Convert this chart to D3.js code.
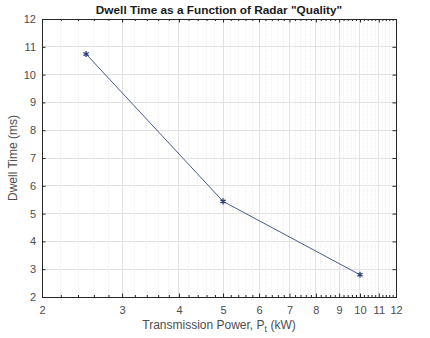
<!DOCTYPE html>
<html>
<head>
<meta charset="utf-8">
<script src="https://cdn.jsdelivr.net/npm/d3@7"></script>
<style>
  html, body { margin: 0; padding: 0; background: #fff; }
  svg { display: block; font-family: "Liberation Sans", Arial, Helvetica, sans-serif; }
</style>
</head>
<body>
<svg id="chart" width="430" height="338"></svg>
<script>
// Transmission power (kW) and the resulting dwell time (ms)
const powerKW = [2.5, 5, 10];
const dwellMs = [10.74, 5.44, 2.8];

// Axis ticks
const xTicks = [2, 3, 4, 5, 6, 7, 8, 9, 10, 11, 12];
const yTicks = [2, 3, 4, 5, 6, 7, 8, 9, 10, 11, 12];
const xMinorTicks = d3.range(2, 12.0001, 0.2).map(v => +v.toFixed(1)).filter(v => !xTicks.includes(v));

const titleText = 'Dwell Time as a Function of Radar "Quality"';
const yLabelText = "Dwell Time (ms)";

const svg = d3.select("#chart");
const margin = { left: 42, right: 34, top: 19, bottom: 41 };
const W = 430, H = 338;
const x0 = margin.left, x1 = W - margin.right;
const y0 = margin.top, y1 = H - margin.bottom;

const x = d3.scaleLog().domain([2, 12]).range([x0, x1]);
const y = d3.scaleLinear().domain([2, 12]).range([y1, y0]);

const textColor = "#4d4d4d";
const axisColor = "#262626";

// Minor vertical grid (dotted)
svg.append("g").selectAll("line").data(xMinorTicks).join("line")
  .attr("x1", d => x(d)).attr("x2", d => x(d))
  .attr("y1", y0).attr("y2", y1)
  .attr("stroke", "#efefef").attr("stroke-width", 1)
  .attr("stroke-dasharray", "1,1")
  .attr("shape-rendering", "crispEdges");

// Major grid
const grid = svg.append("g").attr("shape-rendering", "crispEdges");
grid.selectAll(".gx").data(xTicks).join("line")
  .attr("x1", d => x(d)).attr("x2", d => x(d))
  .attr("y1", y0).attr("y2", y1)
  .attr("stroke", "#e2e2e2");
grid.selectAll(".gy").data(yTicks).join("line")
  .attr("x1", x0).attr("x2", x1)
  .attr("y1", d => y(d)).attr("y2", d => y(d))
  .attr("stroke", "#e2e2e2");

// Axes with inward ticks on all four sides
const fmt = d3.format("d");
svg.append("g").attr("transform", `translate(0,${y1})`)
  .call(d3.axisBottom(x).tickValues(xTicks).tickFormat(fmt).tickSizeInner(-3.5).tickSizeOuter(0).tickPadding(9));
svg.append("g").attr("transform", `translate(0,${y0})`)
  .call(d3.axisTop(x).tickValues(xTicks).tickFormat("").tickSizeInner(-3.5).tickSizeOuter(0));
svg.append("g").attr("transform", `translate(${x0},0)`)
  .call(d3.axisLeft(y).tickValues(yTicks).tickFormat(fmt).tickSizeInner(-3.5).tickSizeOuter(0).tickPadding(6));
svg.append("g").attr("transform", `translate(${x1},0)`)
  .call(d3.axisRight(y).tickValues(yTicks).tickFormat("").tickSizeInner(-3.5).tickSizeOuter(0));

// Minor x ticks, bottom and top
svg.append("g").attr("transform", `translate(0,${y1})`)
  .call(d3.axisBottom(x).tickValues(xMinorTicks).tickFormat("").tickSizeInner(-2).tickSizeOuter(0))
  .call(g => g.select(".domain").remove());
svg.append("g").attr("transform", `translate(0,${y0})`)
  .call(d3.axisTop(x).tickValues(xMinorTicks).tickFormat("").tickSizeInner(-2).tickSizeOuter(0))
  .call(g => g.select(".domain").remove());

svg.selectAll(".domain").attr("stroke", axisColor).attr("shape-rendering", "crispEdges");
svg.selectAll(".tick line").attr("stroke", axisColor);
svg.selectAll(".tick text").attr("fill", textColor).style("font-size", "11px")
  .style("font-family", "'Liberation Sans', Arial, sans-serif");

// Data line and star markers
const lineColor = "#4a5a8e";
svg.append("path")
  .datum(powerKW.map((p, i) => [p, dwellMs[i]]))
  .attr("fill", "none").attr("stroke", lineColor).attr("stroke-width", 1)
  .attr("d", d3.line().x(d => x(d[0])).y(d => y(d[1])));

const star = d3.symbol().type(d3.symbolAsterisk).size(26);
svg.append("g").selectAll("path").data(powerKW).join("path")
  .attr("transform", (d, i) => `translate(${x(d)},${y(dwellMs[i])})`)
  .attr("d", star)
  .attr("fill", "none").attr("stroke", "#2e3d78").attr("stroke-width", 1.3);

// Title
svg.append("text")
  .attr("x", (x0 + x1) / 2).attr("y", 14)
  .attr("text-anchor", "middle")
  .attr("fill", "#1a1a1a")
  .style("font-size", "11.8px").style("font-weight", "bold")
  .text(titleText);

// X label with subscript t
const xl = svg.append("text")
  .attr("x", (x0 + x1) / 2).attr("y", 329)
  .attr("text-anchor", "middle")
  .attr("fill", textColor)
  .style("font-size", "12px");
xl.append("tspan").text("Transmission Power, P");
xl.append("tspan").attr("dy", 3).style("font-size", "9px").text("t");
xl.append("tspan").attr("dy", -3).text(" (kW)");

// Y label
svg.append("text")
  .attr("transform", `translate(17,${(y0 + y1) / 2}) rotate(-90)`)
  .attr("text-anchor", "middle")
  .attr("fill", textColor)
  .style("font-size", "12px")
  .text(yLabelText);
</script>
</body>
</html>
